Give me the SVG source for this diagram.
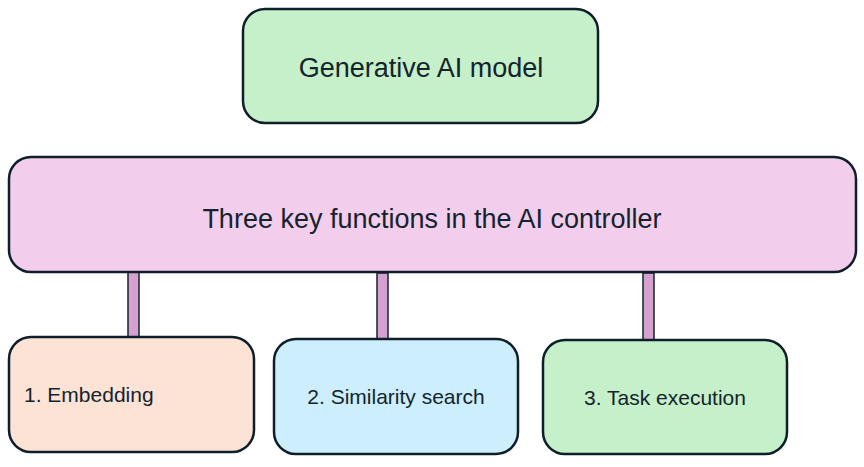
<svg xmlns="http://www.w3.org/2000/svg" width="864" height="467" viewBox="0 0 864 467">
<style>
.box{stroke:#0f1f29;stroke-width:2.5}
.t{font-family:"Liberation Sans",Arial,sans-serif;fill:#14232d}
.c{fill:#d4a1d0;stroke:#14232d;stroke-width:1.5}
</style>
<rect width="864" height="467" fill="#ffffff"/>
<g id="connectors">
<rect class="c" x="128" y="271" width="11" height="66"/>
<rect class="c" x="377" y="273" width="11" height="66"/>
<rect class="c" x="643" y="273" width="11" height="67"/>
</g>
<g id="node-model">
<rect class="box" x="243" y="9" width="355" height="114" rx="22" fill="#c5f0c9"/>
<text class="t" x="421" y="77" font-size="27" text-anchor="middle">Generative AI model</text>
</g>
<g id="node-controller">
<rect class="box" x="9" y="157" width="847" height="115" rx="22" fill="#f2cdec"/>
<text class="t" x="432" y="228" font-size="27" text-anchor="middle">Three key functions in the AI controller</text>
</g>
<g id="node-embedding">
<rect class="box" x="9" y="337" width="245" height="115" rx="22" fill="#fce3d6"/>
<text class="t" x="24" y="402" font-size="21">1. Embedding</text>
</g>
<g id="node-search">
<rect class="box" x="274" y="339" width="244" height="115" rx="22" fill="#cdeefc"/>
<text class="t" x="396" y="404" font-size="21" text-anchor="middle">2. Similarity search</text>
</g>
<g id="node-task">
<rect class="box" x="543" y="340" width="244" height="114" rx="22" fill="#c5f0c9"/>
<text class="t" x="665" y="405" font-size="21" text-anchor="middle">3. Task execution</text>
</g>
</svg>
